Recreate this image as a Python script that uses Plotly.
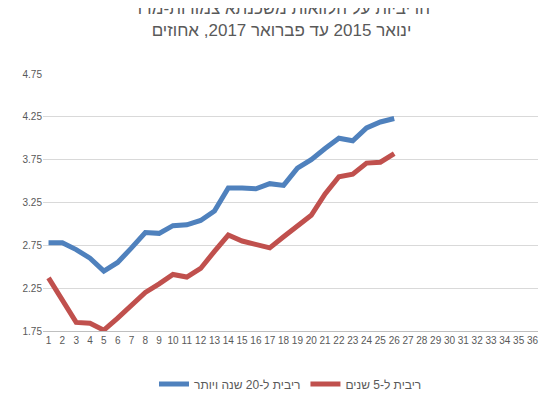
import plotly.graph_objects as go

months = list(range(1, 37))
rate_20y = [2.78, 2.78, 2.70, 2.60, 2.45, 2.55, 2.72, 2.90, 2.89, 2.98, 2.99, 3.04, 3.15,
            3.42, 3.42, 3.41, 3.47, 3.45, 3.65, 3.75, 3.88, 4.00, 3.97, 4.12, 4.19, 4.23]
rate_5y = [2.37, 2.12, 1.85, 1.84, 1.76, 1.90, 2.05, 2.20, 2.30, 2.41, 2.38, 2.48, 2.68,
           2.87, 2.80, 2.76, 2.72, 2.85, 2.98, 3.10, 3.35, 3.55, 3.58, 3.71, 3.72, 3.82]
y_ticks = [1.75, 2.25, 2.75, 3.25, 3.75, 4.25, 4.75]

fig = go.Figure()
fig.add_trace(go.Scatter(x=months[:len(rate_20y)], y=rate_20y, mode='lines',
                         line=dict(color='#4F81BD', width=5), name='ריבית ל-20 שנה ויותר'))
fig.add_trace(go.Scatter(x=months[:len(rate_5y)], y=rate_5y, mode='lines',
                         line=dict(color='#C0504D', width=5), name='ריבית ל-5 שנים'))

fig.update_layout(
    width=547, height=403,
    margin=dict(l=35, r=17, t=66, b=77),
    paper_bgcolor='white', plot_bgcolor='white',
    font=dict(family='Liberation Sans, Arial', size=11, color='#595959'),
    title=dict(text='הריביות על הלוואות משכנתא צמודות-מדד<br>ינואר 2015 עד פברואר 2017, אחוזים',
               x=0.5, y=0.985, yanchor='top', font=dict(size=17, color='#595959')),
    xaxis=dict(tickmode='array', tickvals=months, range=[0.6, 36.4], tickangle=0,
               showgrid=False, showline=True, linecolor='#BFBFBF', ticks='',
               tickfont=dict(size=10)),
    yaxis=dict(tickmode='array', tickvals=y_ticks, ticktext=[f'{v:.2f}' for v in y_ticks],
               range=[1.75, 4.75], showgrid=True, gridcolor='#D9D9D9',
               zeroline=False, tickfont=dict(size=10)),
    legend=dict(orientation='h', x=0.5, xanchor='center', y=-0.15, yanchor='top',
                font=dict(size=12)),
)

fig.write_html("out.html")
